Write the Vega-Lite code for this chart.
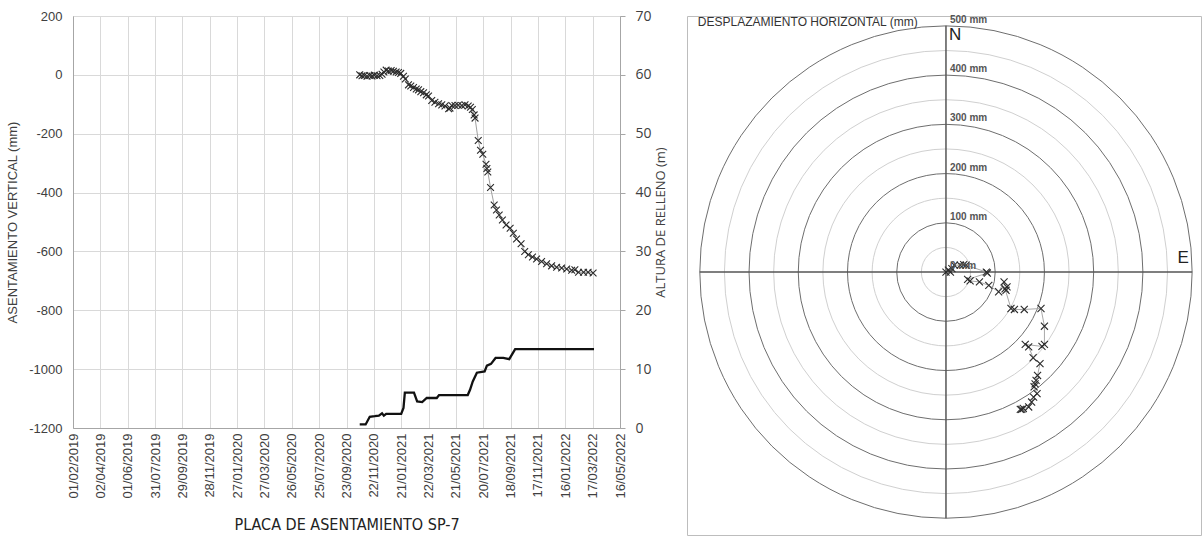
{
  "$schema": "https://vega.github.io/schema/vega-lite/v6.json",
  "background": "white",
  "padding": {"left": 6, "top": 8, "right": 2, "bottom": 2},
  "spacing": 18,
  "config": {
    "font": "Liberation Sans",
    "locale": {"number": {"decimal": ".", "thousands": "", "grouping": [3], "currency": ["", ""], "minus": "-"}},
    "view": {"stroke": "#a6a6a6"},
    "axis": {
      "labelFont": "Liberation Sans",
      "labelFontSize": 13,
      "labelColor": "#404040",
      "titleFont": "Liberation Sans",
      "titleFontSize": 13,
      "titleFontWeight": "normal",
      "titleColor": "#404040",
      "ticks": false,
      "domainColor": "#a6a6a6",
      "gridColor": "#d9d9d9",
      "labelOverlap": false,
      "labelFlush": false
    }
  },
  "datasets": {
    "settle": [
      {"date": "2020-10-22", "v": 0},
      {"date": "2020-10-27", "v": -3},
      {"date": "2020-11-01", "v": -2},
      {"date": "2020-11-07", "v": -5},
      {"date": "2020-11-13", "v": -2},
      {"date": "2020-11-18", "v": -4},
      {"date": "2020-11-23", "v": -1},
      {"date": "2020-11-29", "v": -3},
      {"date": "2020-12-05", "v": -2},
      {"date": "2020-12-10", "v": 2},
      {"date": "2020-12-14", "v": 10},
      {"date": "2020-12-19", "v": 16},
      {"date": "2020-12-24", "v": 13},
      {"date": "2020-12-30", "v": 15},
      {"date": "2021-01-04", "v": 12},
      {"date": "2021-01-10", "v": 10},
      {"date": "2021-01-15", "v": 8},
      {"date": "2021-01-20", "v": 5},
      {"date": "2021-01-26", "v": -5},
      {"date": "2021-01-30", "v": -14},
      {"date": "2021-02-06", "v": -34},
      {"date": "2021-02-11", "v": -38},
      {"date": "2021-02-17", "v": -43},
      {"date": "2021-02-23", "v": -48},
      {"date": "2021-02-28", "v": -51},
      {"date": "2021-03-05", "v": -57},
      {"date": "2021-03-11", "v": -61},
      {"date": "2021-03-17", "v": -68},
      {"date": "2021-03-22", "v": -72},
      {"date": "2021-03-29", "v": -87},
      {"date": "2021-04-05", "v": -93},
      {"date": "2021-04-13", "v": -98},
      {"date": "2021-04-20", "v": -102},
      {"date": "2021-04-27", "v": -106},
      {"date": "2021-05-05", "v": -115},
      {"date": "2021-05-08", "v": -113},
      {"date": "2021-05-12", "v": -104},
      {"date": "2021-05-19", "v": -104},
      {"date": "2021-05-26", "v": -103},
      {"date": "2021-06-03", "v": -104},
      {"date": "2021-06-10", "v": -102},
      {"date": "2021-06-17", "v": -106},
      {"date": "2021-06-22", "v": -110},
      {"date": "2021-06-26", "v": -118},
      {"date": "2021-06-30", "v": -136},
      {"date": "2021-07-02", "v": -147},
      {"date": "2021-07-09", "v": -223},
      {"date": "2021-07-14", "v": -256},
      {"date": "2021-07-19", "v": -270},
      {"date": "2021-07-26", "v": -304},
      {"date": "2021-07-28", "v": -318},
      {"date": "2021-07-30", "v": -330},
      {"date": "2021-08-05", "v": -383},
      {"date": "2021-08-13", "v": -442},
      {"date": "2021-08-18", "v": -459},
      {"date": "2021-08-24", "v": -476},
      {"date": "2021-08-31", "v": -493},
      {"date": "2021-09-08", "v": -510},
      {"date": "2021-09-17", "v": -521},
      {"date": "2021-09-24", "v": -538},
      {"date": "2021-10-01", "v": -558},
      {"date": "2021-10-11", "v": -574},
      {"date": "2021-10-19", "v": -600},
      {"date": "2021-10-27", "v": -611},
      {"date": "2021-11-05", "v": -619},
      {"date": "2021-11-14", "v": -626},
      {"date": "2021-11-25", "v": -634},
      {"date": "2021-12-06", "v": -642},
      {"date": "2021-12-17", "v": -649},
      {"date": "2021-12-28", "v": -654},
      {"date": "2022-01-08", "v": -656},
      {"date": "2022-01-19", "v": -660},
      {"date": "2022-01-30", "v": -664},
      {"date": "2022-02-06", "v": -662},
      {"date": "2022-02-14", "v": -671},
      {"date": "2022-02-25", "v": -671},
      {"date": "2022-03-07", "v": -671},
      {"date": "2022-03-18", "v": -673}
    ],
    "fill": [
      {"date": "2020-10-22", "h": 0.6},
      {"date": "2020-11-04", "h": 0.6},
      {"date": "2020-11-13", "h": 1.9},
      {"date": "2020-11-24", "h": 2.0},
      {"date": "2020-12-03", "h": 2.1},
      {"date": "2020-12-10", "h": 2.5},
      {"date": "2020-12-14", "h": 2.1},
      {"date": "2020-12-19", "h": 2.4},
      {"date": "2021-01-21", "h": 2.4},
      {"date": "2021-01-26", "h": 3.4},
      {"date": "2021-01-29", "h": 6.0},
      {"date": "2021-02-18", "h": 6.0},
      {"date": "2021-02-25", "h": 4.5},
      {"date": "2021-03-08", "h": 4.4},
      {"date": "2021-03-18", "h": 5.1},
      {"date": "2021-04-09", "h": 5.1},
      {"date": "2021-04-14", "h": 5.6},
      {"date": "2021-06-16", "h": 5.6},
      {"date": "2021-06-21", "h": 6.5},
      {"date": "2021-06-27", "h": 7.9},
      {"date": "2021-07-06", "h": 9.4},
      {"date": "2021-07-23", "h": 9.6},
      {"date": "2021-07-28", "h": 10.6},
      {"date": "2021-08-06", "h": 10.9},
      {"date": "2021-08-16", "h": 11.9},
      {"date": "2021-09-02", "h": 11.9},
      {"date": "2021-09-15", "h": 11.7},
      {"date": "2021-09-28", "h": 13.4},
      {"date": "2022-03-20", "h": 13.4}
    ],
    "disp": [
      {"i": 1, "e": 0, "n": 0},
      {"i": 2, "e": 5, "n": 4},
      {"i": 3, "e": 9, "n": 0},
      {"i": 4, "e": 12, "n": 7},
      {"i": 5, "e": 17, "n": 14},
      {"i": 6, "e": 29, "n": 14},
      {"i": 7, "e": 36, "n": 15},
      {"i": 8, "e": 41, "n": 14},
      {"i": 9, "e": 82, "n": 0},
      {"i": 10, "e": 84, "n": -2},
      {"i": 11, "e": 44, "n": -15},
      {"i": 12, "e": 49, "n": -18},
      {"i": 13, "e": 68, "n": -20},
      {"i": 14, "e": 87, "n": -27},
      {"i": 15, "e": 107, "n": -40},
      {"i": 16, "e": 118, "n": -20},
      {"i": 17, "e": 122, "n": -37},
      {"i": 18, "e": 124, "n": -30},
      {"i": 19, "e": 120, "n": -34},
      {"i": 20, "e": 132, "n": -74},
      {"i": 21, "e": 139, "n": -76},
      {"i": 22, "e": 159, "n": -76},
      {"i": 23, "e": 193, "n": -74},
      {"i": 24, "e": 200, "n": -110},
      {"i": 25, "e": 200, "n": -147},
      {"i": 26, "e": 195, "n": -151},
      {"i": 27, "e": 161, "n": -147},
      {"i": 28, "e": 168, "n": -152},
      {"i": 29, "e": 177, "n": -174},
      {"i": 30, "e": 191, "n": -186},
      {"i": 31, "e": 186, "n": -210},
      {"i": 32, "e": 183, "n": -220},
      {"i": 33, "e": 181, "n": -227},
      {"i": 34, "e": 179, "n": -233},
      {"i": 35, "e": 185, "n": -247},
      {"i": 36, "e": 178, "n": -254},
      {"i": 37, "e": 174, "n": -264},
      {"i": 38, "e": 168, "n": -274},
      {"i": 39, "e": 157, "n": -277},
      {"i": 40, "e": 154, "n": -279},
      {"i": 41, "e": 151, "n": -279}
    ],
    "rings": [
      {"r": 50, "kind": "light"},
      {"r": 150, "kind": "light"},
      {"r": 250, "kind": "light"},
      {"r": 350, "kind": "light"},
      {"r": 450, "kind": "light"},
      {"r": 100, "kind": "dark"},
      {"r": 200, "kind": "dark"},
      {"r": 300, "kind": "dark"},
      {"r": 400, "kind": "dark"},
      {"r": 500, "kind": "dark"}
    ],
    "ringlabels": [
      {"r": 0, "t": "0 mm"},
      {"r": 100, "t": "100 mm"},
      {"r": 200, "t": "200 mm"},
      {"r": 300, "t": "300 mm"},
      {"r": 400, "t": "400 mm"},
      {"r": 500, "t": "500 mm"}
    ]
  },
  "hconcat": [
    {
      "width": 547,
      "height": 412,
      "layer": [
        {
          "layer": [
            {
              "data": {"name": "settle"},
              "mark": {"type": "line", "color": "#a0a0a0", "strokeWidth": 1},
              "encoding": {
                "x": {
                  "field": "date",
                  "type": "temporal",
                  "scale": {
                    "type": "utc",
                    "nice": false,
                    "domain": [
                      {"year": 2019, "month": 2, "date": 1, "utc": true},
                      {"year": 2022, "month": 5, "date": 16, "utc": true}
                    ]
                  },
                  "axis": {
                    "values": [
                      {"year": 2019, "month": 2, "date": 1, "utc": true},
                      {"year": 2019, "month": 4, "date": 2, "utc": true},
                      {"year": 2019, "month": 6, "date": 1, "utc": true},
                      {"year": 2019, "month": 7, "date": 31, "utc": true},
                      {"year": 2019, "month": 9, "date": 29, "utc": true},
                      {"year": 2019, "month": 11, "date": 28, "utc": true},
                      {"year": 2020, "month": 1, "date": 27, "utc": true},
                      {"year": 2020, "month": 3, "date": 27, "utc": true},
                      {"year": 2020, "month": 5, "date": 26, "utc": true},
                      {"year": 2020, "month": 7, "date": 25, "utc": true},
                      {"year": 2020, "month": 9, "date": 23, "utc": true},
                      {"year": 2020, "month": 11, "date": 22, "utc": true},
                      {"year": 2021, "month": 1, "date": 21, "utc": true},
                      {"year": 2021, "month": 3, "date": 22, "utc": true},
                      {"year": 2021, "month": 5, "date": 21, "utc": true},
                      {"year": 2021, "month": 7, "date": 20, "utc": true},
                      {"year": 2021, "month": 9, "date": 18, "utc": true},
                      {"year": 2021, "month": 11, "date": 17, "utc": true},
                      {"year": 2022, "month": 1, "date": 16, "utc": true},
                      {"year": 2022, "month": 3, "date": 17, "utc": true},
                      {"year": 2022, "month": 5, "date": 16, "utc": true}
                    ],
                    "tickCount": 40,
                    "format": "%d/%m/%Y",
                    "labelAngle": 270,
                    "labelPadding": 5,
                    "labelOverlap": false,
                    "labelSeparation": 0,
                    "grid": true,
                    "title": "PLACA DE ASENTAMIENTO SP-7",
                    "titleFont": "Liberation Sans Narrow, DejaVu Sans Condensed, Roboto Condensed, Liberation Sans",
                    "titleFontSize": 16,
                    "titleColor": "#222222",
                    "titlePadding": 18
                  }
                },
                "y": {
                  "field": "v",
                  "type": "quantitative",
                  "scale": {"domain": [-1200, 200], "nice": false},
                  "axis": {
                    "values": [-1200, -1000, -800, -600, -400, -200, 0, 200],
                    "format": "d",
                    "title": "ASENTAMIENTO VERTICAL  (mm)",
                    "labelPadding": 11,
                    "titlePadding": 9,
                    "grid": true
                  }
                }
              }
            },
            {
              "data": {"name": "settle"},
              "mark": {"type": "point", "shape": "M-1,-1L1,1M1,-1L-1,1", "filled": false, "stroke": "#2b2b2b", "strokeWidth": 1.1, "size": 46, "opacity": 1},
              "encoding": {
                "x": {"field": "date", "type": "temporal"},
                "y": {"field": "v", "type": "quantitative"}
              }
            }
          ]
        },
        {
          "data": {"name": "fill"},
          "mark": {"type": "line", "color": "#111111", "strokeWidth": 2.3},
          "encoding": {
            "x": {"field": "date", "type": "temporal"},
            "y": {
              "field": "h",
              "type": "quantitative",
              "scale": {"domain": [0, 70], "nice": false},
              "axis": {
                "orient": "right",
                "values": [0, 10, 20, 30, 40, 50, 60, 70],
                "grid": false,
                "ticks": true,
                "tickSize": 5,
                "tickColor": "#a6a6a6",
                "labelFont": "Open Sans",
                "labelFontSize": 14,
                "labelPadding": 10,
                "title": "ALTURA DE RELLENO (m)",
                "titleFont": "Open Sans",
                "titleFontSize": 13,
                "titleAngle": 270,
                "titleBaseline": "top",
                "titlePadding": 3
              }
            }
          }
        }
      ],
      "resolve": {"scale": {"y": "independent"}}
    },
    {
      "width": 514,
      "height": 519,
      "view": {"stroke": "#bdbdbd"},
      "layer": [
        {
          "data": {"name": "rings"},
          "mark": {"type": "point", "shape": "circle", "filled": false, "strokeWidth": 1, "opacity": 1},
          "encoding": {
            "x": {"datum": 0, "type": "quantitative", "scale": {"domain": [-526, 518], "nice": false, "zero": false}, "axis": null},
            "y": {"datum": 0, "type": "quantitative", "scale": {"domain": [-534, 520], "nice": false, "zero": false}, "axis": null},
            "size": {"field": "r", "type": "quantitative", "scale": {"type": "pow", "exponent": 2, "domain": [0, 500], "range": [0, 242399], "zero": true}, "legend": null},
            "stroke": {"field": "kind", "type": "nominal", "scale": {"domain": ["light", "dark"], "range": ["#d0d0d0", "#6e6e6e"]}, "legend": null}
          }
        },
        {
          "data": {"values": [{}]},
          "mark": {"type": "rule", "color": "#555555", "strokeWidth": 1.5},
          "encoding": {
            "x": {"datum": -500, "type": "quantitative"},
            "x2": {"datum": 500},
            "y": {"datum": 0, "type": "quantitative"}
          }
        },
        {
          "data": {"values": [{}]},
          "mark": {"type": "rule", "color": "#555555", "strokeWidth": 1.5},
          "encoding": {
            "x": {"datum": 0, "type": "quantitative"},
            "y": {"datum": -500, "type": "quantitative"},
            "y2": {"datum": 500}
          }
        },
        {
          "data": {"name": "disp"},
          "mark": {"type": "line", "color": "#a8a8a8", "strokeWidth": 1},
          "encoding": {
            "x": {"field": "e", "type": "quantitative"},
            "y": {"field": "n", "type": "quantitative"},
            "order": {"field": "i", "type": "quantitative"}
          }
        },
        {
          "data": {"name": "disp"},
          "mark": {"type": "point", "shape": "M-1,-1L1,1M1,-1L-1,1", "filled": false, "stroke": "#2b2b2b", "strokeWidth": 1.1, "size": 50, "opacity": 1},
          "encoding": {
            "x": {"field": "e", "type": "quantitative"},
            "y": {"field": "n", "type": "quantitative"}
          }
        },
        {
          "data": {"name": "ringlabels"},
          "mark": {"type": "text", "align": "left", "baseline": "bottom", "dx": 4, "dy": -1, "fontSize": 10, "fontWeight": "bold", "color": "#555555"},
          "encoding": {
            "x": {"datum": 0, "type": "quantitative"},
            "y": {"field": "r", "type": "quantitative"},
            "text": {"field": "t"}
          }
        },
        {
          "data": {"values": [{}]},
          "mark": {"type": "text", "text": "N", "align": "left", "baseline": "middle", "dx": 3, "fontSize": 17, "color": "#222222"},
          "encoding": {
            "x": {"datum": 0, "type": "quantitative"},
            "y": {"datum": 482, "type": "quantitative"}
          }
        },
        {
          "data": {"values": [{}]},
          "mark": {"type": "text", "text": "E", "align": "center", "baseline": "middle", "fontSize": 17, "color": "#222222"},
          "encoding": {
            "x": {"datum": 482, "type": "quantitative"},
            "y": {"datum": 28, "type": "quantitative"}
          }
        },
        {
          "data": {"values": [{}]},
          "mark": {"type": "text", "text": "DESPLAZAMIENTO HORIZONTAL  (mm)", "align": "left", "baseline": "alphabetic", "fontSize": 12, "color": "#333333"},
          "encoding": {
            "x": {"datum": -504, "type": "quantitative"},
            "y": {"datum": 499, "type": "quantitative"}
          }
        }
      ]
    }
  ]
}
